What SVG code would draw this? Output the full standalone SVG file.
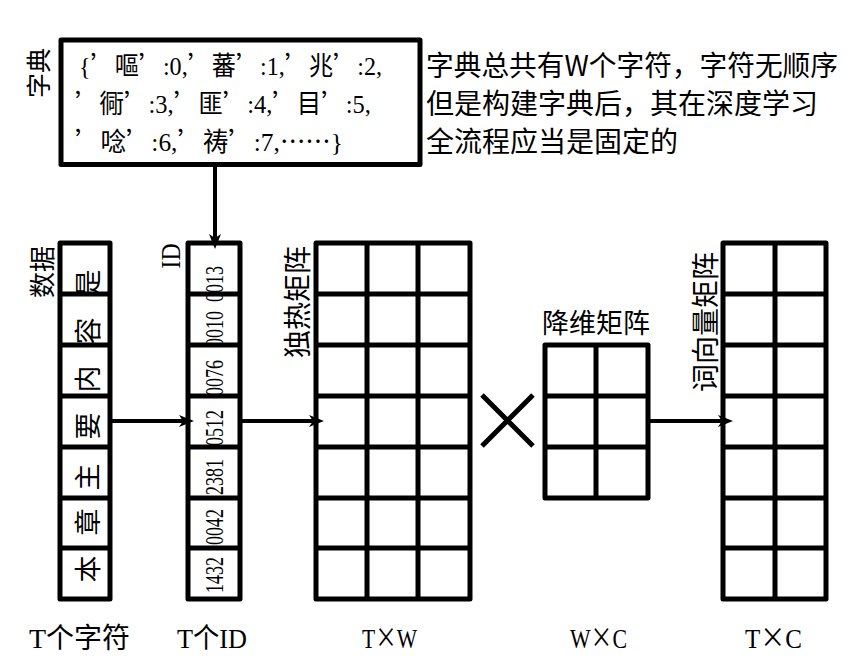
<svg xmlns="http://www.w3.org/2000/svg" width="864" height="661" viewBox="0 0 864 661">
<style>
.bx{fill:none;stroke:#000;stroke-width:5;stroke-linejoin:round}
.gl{stroke:#000;stroke-width:5}
.cn{stroke:#000;stroke-width:4;fill:none}
.cjk{font-family:"Noto Sans CJK SC","Noto Sans",sans-serif;fill:#000}
.ser{font-family:"Liberation Serif","Noto Sans CJK SC",serif;fill:#000}
.q{font-family:"Noto Sans CJK SC",sans-serif}
.rot{text-anchor:middle;dominant-baseline:central}
</style>
<defs>
<marker id="ah" markerWidth="16" markerHeight="12" refX="7" refY="6" orient="auto" markerUnits="userSpaceOnUse">
<path d="M0,0 L15,6 L0,12 L4,6 Z" fill="#000"/>
</marker>
</defs>
<rect width="864" height="661" fill="#fff"/>

<g id="dict">
<rect class="bx" x="61" y="40" width="359" height="124.5"/>
<text class="ser" x="79" y="75" font-size="26" textLength="303" lengthAdjust="spacingAndGlyphs">{<tspan class="q">’</tspan>嘔<tspan class="q">’</tspan>:0,<tspan class="q">’</tspan>蕃<tspan class="q">’</tspan>:1,<tspan class="q">’</tspan>兆<tspan class="q">’</tspan>:2,</text>
<text class="ser" x="75" y="113" font-size="26" textLength="296" lengthAdjust="spacingAndGlyphs"><tspan class="q">’</tspan>衕<tspan class="q">’</tspan>:3,<tspan class="q">’</tspan>匪<tspan class="q">’</tspan>:4,<tspan class="q">’</tspan>目<tspan class="q">’</tspan>:5,</text>
<text class="ser" x="75" y="151" font-size="26" textLength="268" lengthAdjust="spacingAndGlyphs"><tspan class="q">’</tspan>唸<tspan class="q">’</tspan>:6,<tspan class="q">’</tspan>祷<tspan class="q">’</tspan>:7,<tspan class="q">……</tspan>}</text>
<text class="cjk rot" font-size="25" transform="translate(37,73) rotate(-90)">字典</text>
</g>

<g id="note">
<text class="cjk" x="426" y="76" font-size="28" textLength="412" lengthAdjust="spacingAndGlyphs">字典总共有W个字符，字符无顺序</text>
<text class="cjk" x="426" y="114" font-size="28">但是构建字典后，其在深度学习</text>
<text class="cjk" x="426" y="152" font-size="28">全流程应当是固定的</text>
</g>

<g id="data">
<g class="cjk rot" font-size="27">
<text transform="translate(86,569) rotate(-90)">本</text>
<text transform="translate(86,522) rotate(-90)">章</text>
<text transform="translate(86,477) rotate(-90)">主</text>
<text transform="translate(86,426) rotate(-90)">要</text>
<text transform="translate(86,379) rotate(-90)">内</text>
<text transform="translate(86,331) rotate(-90)">容</text>
<text transform="translate(86,283) rotate(-90)">是</text>
</g>
<rect class="bx" x="60" y="243" width="50" height="356"/>
<path class="gl" d="M60,294H110M60,345H110M60,396H110M60,447H110M60,498H110M60,548H110"/>
<text class="cjk rot" font-size="26" transform="translate(40,272) rotate(-90)">数据</text>
</g>

<g id="ids">
<g class="ser rot" font-size="25">
<text transform="translate(214,575) rotate(-90)" textLength="36" lengthAdjust="spacingAndGlyphs">1432</text>
<text transform="translate(214,527) rotate(-90)" textLength="36" lengthAdjust="spacingAndGlyphs">0042</text>
<text transform="translate(214,477) rotate(-90)" textLength="36" lengthAdjust="spacingAndGlyphs">2381</text>
<text transform="translate(214,428) rotate(-90)" textLength="36" lengthAdjust="spacingAndGlyphs">0512</text>
<text transform="translate(214,378) rotate(-90)" textLength="36" lengthAdjust="spacingAndGlyphs">0076</text>
<text transform="translate(214,329) rotate(-90)" textLength="36" lengthAdjust="spacingAndGlyphs">0010</text>
<text transform="translate(214,284) rotate(-90)" textLength="36" lengthAdjust="spacingAndGlyphs">0013</text>
</g>
<rect class="bx" x="188" y="243" width="52" height="356"/>
<path class="gl" d="M188,294H240M188,345H240M188,396H240M188,447H240M188,498H240M188,548H240"/>
<text class="ser rot" font-size="28" transform="translate(170,256) rotate(-90)" textLength="25" lengthAdjust="spacingAndGlyphs">ID</text>
</g>

<g id="onehot">
<rect class="bx" x="316" y="243" width="154" height="356"/>
<path class="gl" d="M367,243V599M418,243V599M316,294H470M316,345H470M316,396H470M316,447H470M316,498H470M316,548H470"/>
<text class="cjk rot" font-size="28" transform="translate(296,302) rotate(-90)">独热矩阵</text>
</g>

<g id="times">
<path d="M482,395L533,446M482,446L533,395" stroke="#000" stroke-width="5" fill="none"/>
</g>

<g id="reduce">
<rect class="bx" x="545" y="345" width="103" height="153"/>
<path class="gl" d="M596,345V498M545,396H648M545,447H648"/>
<text class="cjk" x="542" y="333" font-size="27">降维矩阵</text>
</g>

<g id="wordvec">
<rect class="bx" x="723" y="243" width="103" height="356"/>
<path class="gl" d="M775,243V599M723,294H826M723,345H826M723,396H826M723,447H826M723,498H826M723,548H826"/>
<text class="cjk rot" font-size="28" transform="translate(704,322) rotate(-90)">词向量矩阵</text>
</g>

<g id="connectors">
<path class="cn" d="M215,167V241" marker-end="url(#ah)"/>
<path class="cn" d="M112,421H186" marker-end="url(#ah)"/>
<path class="cn" d="M242,421H316" marker-end="url(#ah)"/>
<path class="cn" d="M650,421H725" marker-end="url(#ah)"/>
</g>

<g id="captions" class="ser" font-size="28">
<text x="29" y="648" textLength="101" lengthAdjust="spacingAndGlyphs">T个字符</text>
<text x="177" y="648" textLength="70" lengthAdjust="spacingAndGlyphs">T个ID</text>
<text x="362" y="648" textLength="55" lengthAdjust="spacingAndGlyphs">T<tspan class="q">×</tspan>W</text>
<text x="570" y="648" textLength="57" lengthAdjust="spacingAndGlyphs">W<tspan class="q">×</tspan>C</text>
<text x="745" y="648" textLength="57" lengthAdjust="spacingAndGlyphs">T<tspan class="q">×</tspan>C</text>
</g>
</svg>
